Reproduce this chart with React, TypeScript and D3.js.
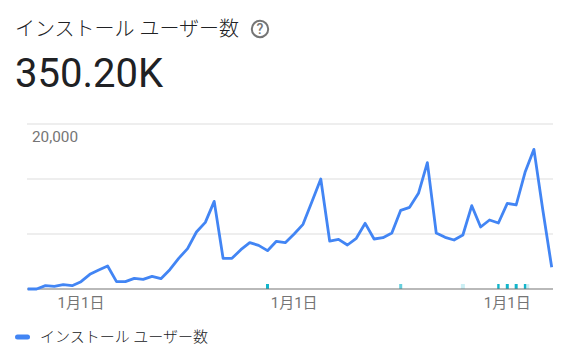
import React from "react";
import * as d3 from "d3";

const title = "インストール ユーザー数";
const total = "350.20K";
const values = [0,0,404,323,525,404,889,1778,2303,2788,889,889,1293,1172,1535,1252,2343,3717,4889,6909,8080,10625,3717,3717,4767,5616,5293,4646,5778,5616,6667,7838,10586,13333,5818,6020,5333,6141,7960,6061,6222,6788,9535,9899,11596,15313,6788,6263,5939,6545,10101,7515,8364,8000,10384,10182,14141,16929,9576,2626];
const gridValues = [0, 6667, 13333, 20000];
const yLabel = "20,000";
const tickIndex = [6, 30, 54];
const tickLabel = "1月1日";
const markerIndex = [27, 42, 49, 53, 54, 55, 56, 56.3];
const markerOpacity = [1, 0.65, 0.22, 1, 1, 1, 1, 0.22];
const markerWidth = [3, 3, 4, 2.4, 3, 3, 2.4, 3];

const FONT = "Roboto, 'Noto Sans CJK JP', sans-serif";

export default function App() {
  const x = d3.scaleLinear().domain([0, values.length - 1]).range([27.7, 551.7]);
  const y = d3.scaleLinear().domain([0, 20000]).range([289, 124]);
  const line = d3.line<number>().x((_, i) => x(i)).y((d) => y(d)).curve(d3.curveLinear);
  return (
    <svg width={578} height={354} style={{ position: "absolute", left: 0, top: 0, background: "#fff" }} fontFamily={FONT}>
      <text x={15} y={36} fontSize={20} fill="#202124" fontWeight={300}>{title}</text>
      <g transform="translate(260,29)">
        <circle r={8.2} fill="none" stroke="#757575" strokeWidth={2} />
        <text y={5} textAnchor="middle" fontSize={14} fontWeight={500} fill="#757575">?</text>
      </g>
      <text x={15} y={87} fontSize={40} fill="#202124">{total}</text>

      {gridValues.slice(1).map((v) => (
        <line key={v} x1={27} x2={553} y1={y(v)} y2={y(v)} stroke="#e8e8e8" strokeWidth={1.5} />
      ))}
      <text x={32} y={142} fontSize={15.3} fill="#757575">{yLabel}</text>

      {markerIndex.map((m, i) => (
        <rect key={i} x={x(m) - markerWidth[i] / 2} y={284} width={markerWidth[i]} height={5} fill="#12b5cb" opacity={markerOpacity[i]} />
      ))}
      <line x1={27} x2={553} y1={y(0)} y2={y(0)} stroke="#757575" strokeWidth={1.2} />
      <path d={line(values) ?? ""} fill="none" stroke="#4285f4" strokeWidth={2.8} strokeLinejoin="round" />

      {tickIndex.map((t) => (
        <text key={t} x={x(t)} y={308} textAnchor="middle" fontSize={15} fill="#757575">{tickLabel}</text>
      ))}

      <rect x={15} y={334.5} width={15} height={5} rx={2.5} fill="#4285f4" />
      <text x={40} y={342} fontSize={15} fill="#202124" fontWeight={300}>{title}</text>
    </svg>
  );
}
